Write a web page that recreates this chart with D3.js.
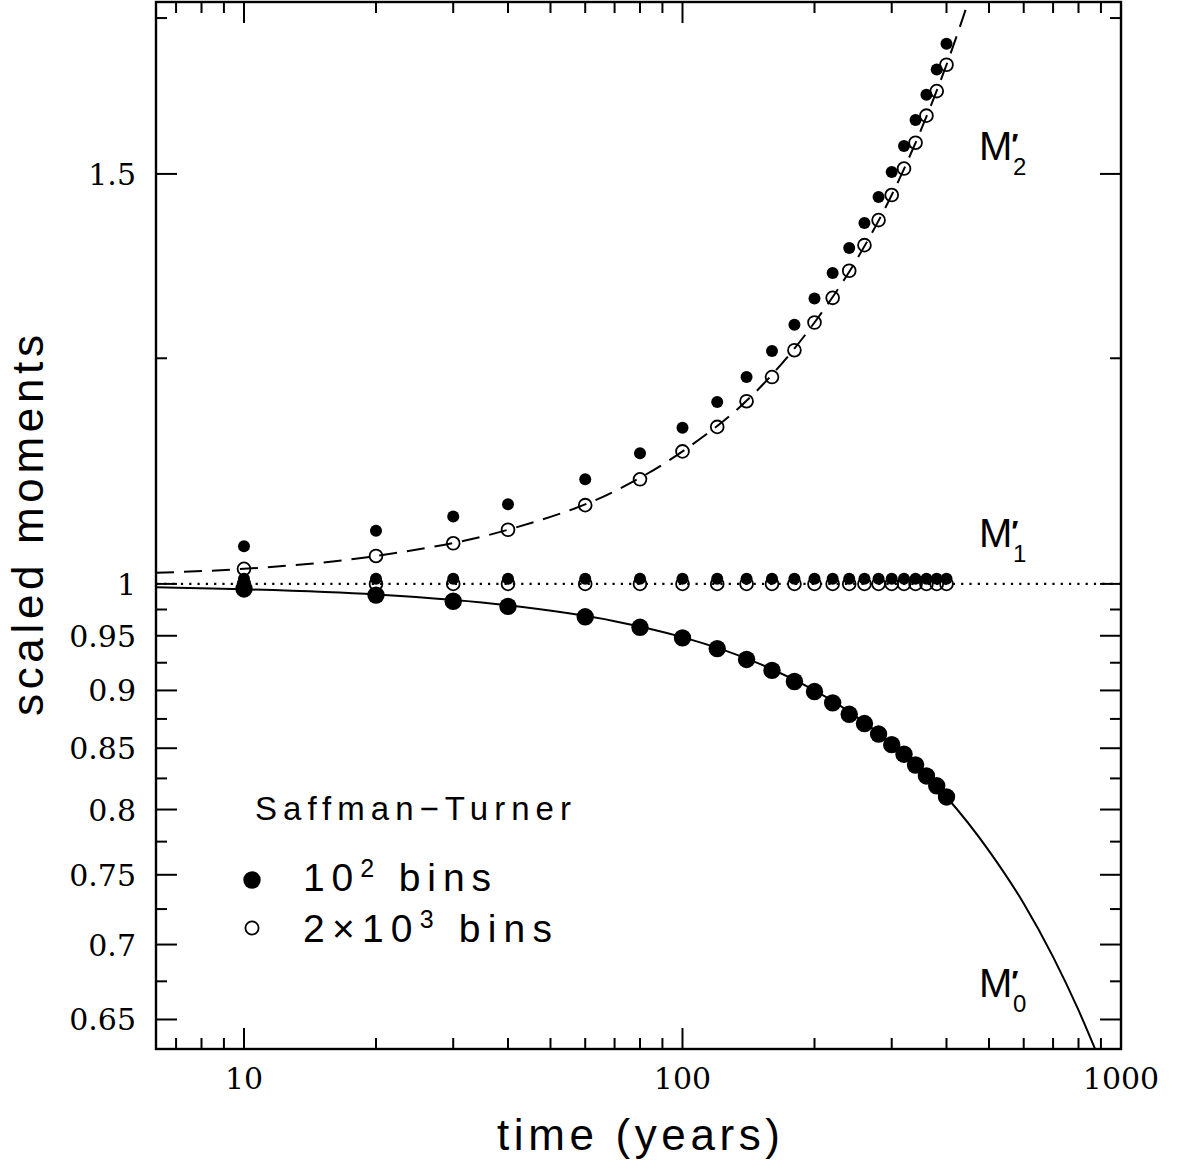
<!DOCTYPE html>
<html>
<head>
<meta charset="utf-8">
<script src="https://cdn.jsdelivr.net/npm/d3@7"></script>
<style>
  body { margin: 0; background: #fff; }
  .tick-label { font-family: "DejaVu Serif", serif; font-size: 30px; fill: #000; }
  .label { font-family: "Liberation Sans", Arial, sans-serif; fill: #000; }
</style>
</head>
<body>
<div class="chart-div"></div>
<script>
// sample times (years)
var times = [10, 20, 30, 40, 60, 80, 100, 120, 140, 160, 180, 200, 220, 240, 260, 280, 300, 320, 340, 360, 380, 400];
// M0' , 10^2 bins
var m0Filled = [0.995, 0.989, 0.983, 0.978, 0.968, 0.958, 0.948, 0.938, 0.928, 0.918, 0.908, 0.899, 0.889, 0.879, 0.871, 0.862, 0.853, 0.845, 0.836, 0.827, 0.819, 0.810];
// M1'
var m1Filled = [1.005, 1.005, 1.005, 1.005, 1.005, 1.005, 1.005, 1.005, 1.005, 1.005, 1.005, 1.005, 1.005, 1.005, 1.005, 1.005, 1.005, 1.005, 1.005, 1.005, 1.005, 1.005];
var m1Open = [1.000, 1.000, 1.000, 1.000, 1.000, 1.000, 1.000, 1.000, 1.000, 1.000, 1.000, 1.000, 1.000, 1.000, 1.000, 1.000, 1.000, 1.000, 1.000, 1.000, 1.000, 1.000];
// M2'
var m2Filled = [1.038, 1.054, 1.069, 1.082, 1.109, 1.138, 1.167, 1.197, 1.227, 1.259, 1.292, 1.326, 1.360, 1.394, 1.429, 1.466, 1.503, 1.542, 1.582, 1.622, 1.663, 1.706];
var m2Open = [1.015, 1.028, 1.041, 1.055, 1.081, 1.109, 1.140, 1.168, 1.198, 1.227, 1.260, 1.295, 1.327, 1.363, 1.398, 1.433, 1.469, 1.508, 1.547, 1.589, 1.628, 1.671];
// analytic curves
var m0CurveT = [6.3, 10, 20, 40, 70, 100, 150, 200, 250, 300, 400, 500, 600, 700, 800, 880];
var m0CurveV = [0.9967, 0.9947, 0.9895, 0.979, 0.9638, 0.9487, 0.924, 0.900, 0.8766, 0.8537, 0.810, 0.768, 0.729, 0.6915, 0.656, 0.629];
var m2CurveT = [6.3, 10, 20, 40, 70, 100, 150, 200, 250, 300, 350, 400, 460];
var m2CurveV = [1.011, 1.015, 1.028, 1.055, 1.096, 1.140, 1.214, 1.295, 1.379, 1.469, 1.567, 1.671, 1.804];
var unityT = [6.3, 1000];
var unityV = [1, 1];
// axes
var xMajor = [10, 100, 1000];
var xMinor = [7, 8, 9, 20, 30, 40, 50, 60, 70, 80, 90, 200, 300, 400, 500, 600, 700, 800, 900];
var yMajor = [0.65, 0.7, 0.75, 0.8, 0.85, 0.9, 0.95, 1, 1.5];
var yMinor = [0.675, 0.725, 0.775, 0.825, 0.875, 0.925, 0.975, 1.25, 1.75];

var svgWidth = 1177;
var svgHeight = 1169;
var plot = {left: 156, right: 1121, top: 2, bottom: 1049};

var svg = d3.select(".chart-div")
    .append("svg")
        .attr("width", svgWidth)
        .attr("height", svgHeight);

var x = d3.scaleLog().domain([6.3, 1000]).range([plot.left, plot.right]);
var y = d3.scaleLog().domain([0.6313, 1.778]).range([plot.bottom, plot.top]);

svg.append("clipPath").attr("id", "clip")
    .append("rect")
        .attr("x", plot.left).attr("y", plot.top)
        .attr("width", plot.right - plot.left)
        .attr("height", plot.bottom - plot.top);

function zipPts(ts, vs) {
    return ts.map(function(t, i) { return [t, vs[i]]; });
}

var line = d3.line()
    .x(function(d) { return x(d[0]); })
    .y(function(d) { return y(d[1]); })
    .curve(d3.curveMonotoneX);

var curves = svg.append("g").attr("clip-path", "url(#clip)");
curves.append("path")
    .attr("d", line(zipPts(m0CurveT, m0CurveV)))
    .attr("fill", "none").attr("stroke", "#000").attr("stroke-width", 2);
curves.append("path")
    .attr("d", line(zipPts(m2CurveT, m2CurveV)))
    .attr("fill", "none").attr("stroke", "#000").attr("stroke-width", 2)
    .attr("stroke-dasharray", "18,10");
curves.append("path")
    .attr("d", line(zipPts(unityT, unityV)))
    .attr("fill", "none").attr("stroke", "#000").attr("stroke-width", 2.2)
    .attr("stroke-dasharray", "2.2,6.1");

// markers
function drawDots(vals, r, open) {
    svg.append("g").selectAll("circle")
        .data(zipPts(times, vals))
        .enter().append("circle")
            .attr("cx", function(d) { return x(d[0]); })
            .attr("cy", function(d) { return y(d[1]); })
            .attr("r", r)
            .attr("fill", open ? "none" : "#000")
            .attr("stroke", open ? "#000" : "none")
            .attr("stroke-width", 1.8);
}
drawDots(m0Filled, 8.7, false);
drawDots(m1Filled, 6, false);
drawDots(m2Filled, 6, false);
drawDots(m1Open, 6.4, true);
drawDots(m2Open, 6.4, true);

// frame and ticks
var axes = svg.append("g").attr("stroke", "#000").attr("stroke-width", 2);
axes.append("rect")
    .attr("x", plot.left).attr("y", plot.top)
    .attr("width", plot.right - plot.left)
    .attr("height", plot.bottom - plot.top)
    .attr("fill", "none").attr("stroke-width", 2.4);

function xTicks(vals, len) {
    vals.forEach(function(v) {
        axes.append("line").attr("x1", x(v)).attr("x2", x(v))
            .attr("y1", plot.bottom).attr("y2", plot.bottom - len);
        axes.append("line").attr("x1", x(v)).attr("x2", x(v))
            .attr("y1", plot.top).attr("y2", plot.top + len);
    });
}
function yTicks(vals, len) {
    vals.forEach(function(v) {
        axes.append("line").attr("y1", y(v)).attr("y2", y(v))
            .attr("x1", plot.left).attr("x2", plot.left + len);
        axes.append("line").attr("y1", y(v)).attr("y2", y(v))
            .attr("x1", plot.right).attr("x2", plot.right - len);
    });
}
xTicks(xMajor, 21);
xTicks(xMinor, 11);
yTicks(yMajor, 21);
yTicks(yMinor, 11);

svg.append("g").selectAll("text")
    .data(xMajor).enter().append("text")
        .attr("class", "tick-label")
        .attr("x", function(d) { return x(d); })
        .attr("y", 1089)
        .attr("text-anchor", "middle")
        .text(function(d) { return d; });

svg.append("g").selectAll("text")
    .data(yMajor).enter().append("text")
        .attr("class", "tick-label")
        .attr("x", 136)
        .attr("y", function(d) { return y(d) + 11; })
        .attr("text-anchor", "end")
        .text(function(d) { return d; });

// axis titles
svg.append("text")
    .attr("class", "label")
    .attr("x", 497).attr("y", 1150)
    .attr("font-size", "44px")
    .attr("textLength", 283)
    .attr("lengthAdjust", "spacing")
    .text("time (years)");
svg.append("text")
    .attr("class", "label")
    .attr("transform", "translate(43,716) rotate(-90)")
    .attr("font-size", "44px")
    .attr("textLength", 381)
    .attr("lengthAdjust", "spacing")
    .text("scaled moments");

// curve labels (M, prime and subscript in one text)
function momentLabel(sub, yBase) {
    var t = svg.append("text").attr("class", "label")
        .attr("x", 979).attr("y", yBase)
        .attr("font-size", "40px");
    t.append("tspan").text("M");
    t.append("tspan").attr("font-size", "30px").attr("font-weight", "bold")
        .attr("dx", -1).attr("dy", -6).text("\u2032");
    t.append("tspan").attr("font-size", "24px")
        .attr("x", 1013).attr("dy", 21).text(sub);
}
momentLabel("2", 160);
momentLabel("1", 547);
momentLabel("0", 997);

// legend
svg.append("text").attr("class", "label")
    .attr("x", 255).attr("y", 820)
    .attr("font-size", "33px")
    .attr("textLength", 316)
    .attr("lengthAdjust", "spacing")
    .text("Saffman\u2212Turner");

svg.append("circle").attr("cx", 252).attr("cy", 880).attr("r", 8.7).attr("fill", "#000");
svg.append("circle").attr("cx", 252).attr("cy", 928).attr("r", 6.6)
    .attr("fill", "none").attr("stroke", "#000").attr("stroke-width", 1.8);

var leg1 = svg.append("text").attr("class", "label")
    .attr("x", 303).attr("y", 891)
    .attr("font-size", "39px")
    .attr("textLength", 188)
    .attr("lengthAdjust", "spacing");
leg1.append("tspan").text("10");
leg1.append("tspan").attr("font-size", "25px").attr("dy", -14).text("2");
leg1.append("tspan").attr("dy", 14).text(" bins");

var leg2 = svg.append("text").attr("class", "label")
    .attr("x", 303).attr("y", 942)
    .attr("font-size", "39px")
    .attr("textLength", 249)
    .attr("lengthAdjust", "spacing");
leg2.append("tspan").text("2\u00d710");
leg2.append("tspan").attr("font-size", "25px").attr("dy", -14).text("3");
leg2.append("tspan").attr("dy", 14).text(" bins");
</script>
</body>
</html>
